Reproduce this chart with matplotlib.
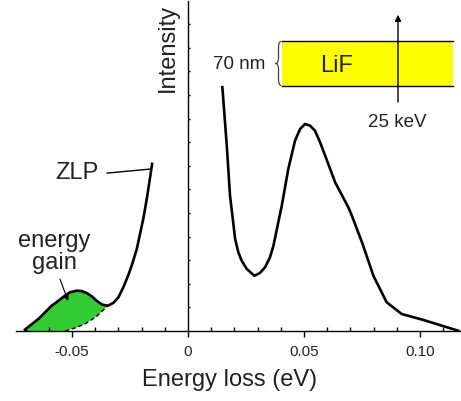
import numpy as np
import matplotlib.pyplot as plt
from matplotlib.ticker import FixedLocator
from matplotlib.path import Path
from matplotlib.patches import PathPatch

plt.rcParams['font.family'] = ['Liberation Sans', 'DejaVu Sans']

# spectre (x en eV, y en unites de graduation)
zlp_x = [-0.0703, -0.0645, -0.0588, -0.0559, -0.053, -0.0509, -0.048, -0.0458,
         -0.0437, -0.0415, -0.0394, -0.037, -0.0346, -0.0322, -0.030, -0.0279,
         -0.0259, -0.0243, -0.0221, -0.0193, -0.0178, -0.0166, -0.0155]
zlp_y = [0.06, 0.51, 1.07, 1.28, 1.5, 1.64, 1.71, 1.69,
         1.61, 1.47, 1.28, 1.12, 1.07, 1.19, 1.43, 1.85,
         2.33, 2.77, 3.47, 4.75, 5.59, 6.35, 7.08]

loss_x = [0.0148, 0.0167, 0.0181, 0.0203, 0.0217, 0.0231, 0.0253, 0.0286, 0.0310,
          0.0332, 0.0353, 0.0368, 0.0404, 0.0432, 0.0461, 0.0483, 0.0504, 0.0526,
          0.0547, 0.0569, 0.0591, 0.0634, 0.0691, 0.0706, 0.0752, 0.0799, 0.0856,
          0.0921, 0.1014, 0.1086, 0.1165]
loss_y = [10.33, 7.85, 5.73, 3.90, 3.33, 2.98, 2.63, 2.34, 2.46,
          2.70, 3.12, 3.61, 5.31, 6.86, 8.06, 8.56, 8.77, 8.70,
          8.49, 8.0, 7.43, 6.30, 5.24, 4.89, 3.70, 2.34, 1.22,
          0.72, 0.47, 0.25, 0.01]

# limite basse (tirets) du pic de gain
gain_x = [-0.053, -0.0487, -0.0444, -0.0394, -0.0346]
gain_y = [0.0, 0.13, 0.30, 0.62, 1.07]

xticks = [-0.05, 0, 0.05, 0.10]
xticklabels = ['-0.05', '0', '0.05', '0.10']
xminor = [-0.07, -0.06, -0.04, -0.03, -0.02, -0.01, 0.01, 0.02, 0.03, 0.04,
          0.06, 0.07, 0.08, 0.09, 0.11]
yticks = list(range(1, 14))

txt = '#222222'

fig = plt.figure(figsize=(4.61, 4.02), dpi=100)
ax = fig.add_axes([0.0345, 0.1741, 0.9647, 0.822])
ax.set_xlim(-0.0742, 0.1175)
ax.set_ylim(0, 14)

# zone verte
n = zlp_x.index(-0.0346) + 1
px = zlp_x[:n] + gain_x[::-1] + [zlp_x[0]]
py = zlp_y[:n] + gain_y[::-1] + [0.0]
ax.fill(px, py, color='#33cc33', lw=0, zorder=1)
ax.plot(gain_x, gain_y, color='black', lw=1.0, ls=(0, (3, 2)), zorder=2)

ax.plot(zlp_x, zlp_y, color='black', lw=1.9, zorder=3, solid_joinstyle='round')
ax.plot(loss_x, loss_y, color='black', lw=1.9, zorder=3, solid_joinstyle='round')

# axes
for s in ['top', 'right']:
    ax.spines[s].set_visible(False)
ax.spines['left'].set_position(('data', 0))
ax.spines['left'].set_linewidth(1.0)
ax.spines['bottom'].set_linewidth(1.0)
ax.xaxis.set_major_locator(FixedLocator(xticks))
ax.set_xticklabels(xticklabels)
ax.xaxis.set_minor_locator(FixedLocator(xminor))
ax.tick_params(axis='x', which='major', direction='out', length=4.5, width=1.0,
               labelsize=11, labelcolor=txt, pad=5)
ax.tick_params(axis='x', which='minor', direction='in', length=3, width=1.0)
ax.set_yticks(yticks)
ax.set_yticklabels([])
ax.tick_params(axis='y', direction='in', length=1.5, width=1.0)

ax.text(0.0177, -2.05, 'Energy loss (eV)', fontsize=17, color=txt,
        ha='center', va='center', clip_on=False)
ax.text(-0.0088, 13.9, 'Intensity', fontsize=17, color=txt, rotation=90,
        ha='center', va='top')

# annotations
ax.text(-0.0478, 6.74, 'ZLP', fontsize=17, color=txt, ha='center', va='center')
ax.plot([-0.0349, -0.0164], [6.69, 6.86], color='black', lw=1.0)

ax.text(-0.0578, 3.37, 'energy\ngain', fontsize=17, color=txt, ha='center',
        va='center', linespacing=1.0)
ax.annotate('', xy=(-0.0517, 1.27), xytext=(-0.0552, 2.2),
            arrowprops=dict(arrowstyle='-|>', color='black', lw=0.8,
                            mutation_scale=7, shrinkA=0, shrinkB=0))

# couche de LiF
ax.fill_between([0.0405, 0.1142], 10.38, 12.29, color='#ffff00', lw=0, zorder=4)
ax.plot([0.0405, 0.1142], [12.29, 12.29], color='black', lw=1.0, zorder=5)
ax.plot([0.0405, 0.1142], [10.38, 10.38], color='black', lw=1.0, zorder=5)
ax.text(0.0642, 11.27, 'LiF', fontsize=17, color=txt, ha='center', va='center',
        zorder=6)
ax.annotate('', xy=(0.0905, 13.4), xytext=(0.0905, 9.7),
            arrowprops=dict(arrowstyle='-|>', color='black', lw=1.0,
                            mutation_scale=9, shrinkA=0, shrinkB=0), zorder=7)
ax.text(0.0901, 8.86, '25 keV', fontsize=13.5, color=txt, ha='center', va='center')
ax.text(0.0334, 11.33, '70 nm', fontsize=13.5, color=txt, ha='right', va='center')

# accolade
xr, xm, xl = 0.0402, 0.0390, 0.0377
y0, y1 = 10.4, 12.27
ym = (y0 + y1) / 2
d = 0.25
verts = [(xr, y1), (xm, y1), (xm, y1 - d), (xm, ym + d), (xm, ym), (xl, ym),
         (xm, ym), (xm, ym - d), (xm, y0 + d), (xm, y0), (xr, y0)]
codes = [Path.MOVETO, Path.CURVE3, Path.CURVE3, Path.LINETO, Path.CURVE3,
         Path.CURVE3, Path.CURVE3, Path.CURVE3, Path.LINETO, Path.CURVE3,
         Path.CURVE3]
ax.add_patch(PathPatch(Path(verts, codes), fill=False, ec='#444444', lw=0.9))

fig.savefig('out.png', dpi=100)
